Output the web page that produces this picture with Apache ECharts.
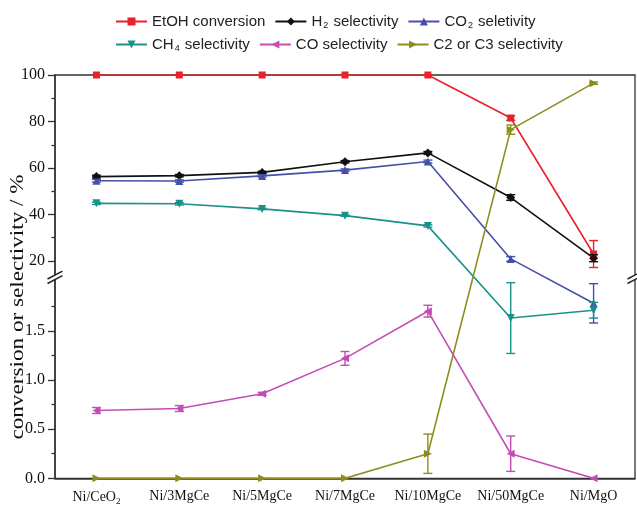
<!DOCTYPE html>
<html>
<head>
<meta charset="utf-8">
<script src="https://cdn.jsdelivr.net/npm/echarts@6/dist/echarts.min.js"></script>
<style>
html,body{margin:0;padding:0;background:#fff;}
#chart{width:637px;height:507px;}
</style>
</head>
<body>
<div id="chart"></div>
<script>
// ---------------- data ----------------
const categories = ['Ni/CeO2', 'Ni/3MgCe', 'Ni/5MgCe', 'Ni/7MgCe', 'Ni/10MgCe', 'Ni/50MgCe', 'Ni/MgO'];

const etohConversion = [100, 100, 100, 100, 100, 81.5, 23.0];
const etohErr        = [0, 0, 0, 0, 0, 1.0, 5.8];

const h2Selectivity  = [56.3, 56.7, 58.1, 62.7, 66.5, 47.3, 21.2];
const h2Err          = [0.6, 0.5, 0.5, 0.5, 0.6, 1.2, 1.5];

const co2Selectivity = [54.5, 54.4, 56.6, 59.1, 62.8, 20.9, 1.78];
const co2Err         = [0.6, 0.5, 0.5, 0.5, 0.6, 1.0, 0.2];

const ch4Selectivity = [44.8, 44.6, 42.4, 39.5, 35.1, 1.63, 1.71];
const ch4Err         = [0.5, 0.5, 0.3, 0.3, 0.5, 0.36, 0.08];

const coSelectivity  = [0.69, 0.71, 0.86, 1.22, 1.70, 0.25, 0.0];
const coErr          = [0.03, 0.03, 0.015, 0.07, 0.06, 0.18, 0];

const c2c3Selectivity = [0, 0, 0, 0, 0.25, 76.5, 96.5];
const c2c3Err         = [0, 0, 0, 0, 0.2, 2.0, 0.5];

const yTicksLower = [0, 0.5, 1.0, 1.5];
const yTickLabelsLower = ['0.0', '0.5', '1.0', '1.5'];
const yTicksUpper = [20, 40, 60, 80, 100];
const yTickLabelsUpper = ['20', '40', '60', '80', '100'];
const yMinorLower = [0.25, 0.75, 1.25, 1.75];
const yMinorUpper = [30, 50, 70, 90];

// ---------------- broken y scale ----------------
// lower segment 0..2, upper segment ~15..100, mapped onto one linear virtual axis
const LOWER_MAX = 2;
const LOWER_SCALE = 98.3;
const UPPER_REF = 20;
const UPPER_REF_POS = 217.3;
const UPPER_SCALE = 2.325;
const BREAK_LOW = 2, BREAK_HIGH = 15;
function fy(v) {
  return v <= LOWER_MAX ? v * LOWER_SCALE : UPPER_REF_POS + (v - UPPER_REF) * UPPER_SCALE;
}
const Y_MAX = fy(100);

const majorVals = yTicksLower.map(fy).concat(yTicksUpper.map(fy));
const majorLabels = yTickLabelsLower.concat(yTickLabelsUpper);
const minorVals = yMinorLower.map(fy).concat(yMinorUpper.map(fy));

const seriesDefs = [
  {name: 'EtOH conversion', values: etohConversion, err: etohErr, color: '#e8212a', symbol: 'rect', size: 7, rot: 0},
  {name: 'H2 selectivity', values: h2Selectivity, err: h2Err, color: '#111111', symbol: 'diamond', size: 9, rot: 0},
  {name: 'CO2 seletivity', values: co2Selectivity, err: co2Err, color: '#4650a8', symbol: 'triangle', size: 8, rot: 0},
  {name: 'CH4 selectivity', values: ch4Selectivity, err: ch4Err, color: '#1a918b', symbol: 'triangle', size: 8, rot: 180},
  {name: 'CO selectivity', values: coSelectivity, err: coErr, color: '#c44db4', symbol: 'triangle', size: 8, rot: 90},
  {name: 'C2 or C3 selectivity', values: c2c3Selectivity, err: c2c3Err, color: '#8d8d1f', symbol: 'triangle', size: 8, rot: -90}
];

const legendRich = {
  n: {fontFamily: 'Liberation Sans', fontSize: 15, color: '#222'},
  s: {fontFamily: 'Liberation Sans', fontSize: 9, color: '#222', verticalAlign: 'bottom', padding: [9, 1, 0, 1]}
};
function legendFmt(name) {
  const m = name.match(/^(H|CO|CH)(\d)( .*)$/);
  if (m) return '{n|' + m[1] + '}{s|' + m[2] + '}{n|' + m[3] + '}';
  return '{n|' + name + '}';
}

const GRID_LEFT = 55, GRID_RIGHT = 2, GRID_TOP = 75, GRID_BOTTOM = 28.7;

const series = [];
seriesDefs.forEach(function (d) {
  series.push({
    name: d.name,
    type: 'line',
    data: d.values.map(fy),
    symbol: d.symbol,
    symbolSize: d.size,
    symbolRotate: d.rot,
    itemStyle: {color: d.color},
    lineStyle: {color: d.color, width: 1.6},
    z: 3
  });
  series.push({
    name: d.name + ' err',
    type: 'custom',
    data: d.values.map(function (v, i) { return [i, v, d.err[i]]; }),
    z: 4,
    silent: true,
    renderItem: function (params, api) {
      const i = api.value(0), v = api.value(1), e = api.value(2);
      if (!e) return null;
      const top = api.coord([i, fy(v + e)]);
      const bot = api.coord([i, fy(Math.max(0, v - e))]);
      const hw = 4.5;
      const st = {stroke: d.color, lineWidth: 1.4};
      return {
        type: 'group',
        children: [
          {type: 'line', shape: {x1: top[0], y1: top[1], x2: bot[0], y2: bot[1]}, style: st},
          {type: 'line', shape: {x1: top[0] - hw, y1: top[1], x2: top[0] + hw, y2: top[1]}, style: st},
          {type: 'line', shape: {x1: bot[0] - hw, y1: bot[1], x2: bot[0] + hw, y2: bot[1]}, style: st}
        ]
      };
    }
  });
});

const chart = echarts.init(document.getElementById('chart'), null, {renderer: 'canvas'});
const option = {
  animation: false,
  backgroundColor: '#fff',
  legend: [
    {
      data: seriesDefs.slice(0, 3).map(function (d) { return d.name; }),
      left: 110, top: 9, itemWidth: 31, itemHeight: 10, itemGap: 9,
      formatter: legendFmt, textStyle: {rich: legendRich}
    },
    {
      data: seriesDefs.slice(3).map(function (d) { return d.name; }),
      left: 110, top: 32, itemWidth: 31, itemHeight: 10, itemGap: 9,
      formatter: legendFmt, textStyle: {rich: legendRich}
    }
  ],
  grid: {
    left: GRID_LEFT, right: GRID_RIGHT, top: GRID_TOP, bottom: GRID_BOTTOM,
    show: true, borderColor: '#333', borderWidth: 1.3, backgroundColor: 'transparent'
  },
  xAxis: [
    {
      type: 'category', data: categories, position: 'bottom',
      axisLine: {lineStyle: {color: '#333', width: 1.5}},
      axisTick: {alignWithLabel: true, length: 6, lineStyle: {color: '#333', width: 1.3}},
      axisLabel: {
        interval: 0, margin: 11, color: '#111', fontFamily: 'Liberation Serif', fontSize: 14,
        formatter: function (v) { return v.replace(/O2$/, 'O{s|2}'); },
        rich: {s: {fontFamily: 'Liberation Serif', fontSize: 9, color: '#111', verticalAlign: 'bottom', padding: [8, 0, 0, 0]}}
      }
    },
    {
      type: 'category', data: categories, position: 'bottom',
      axisLine: {show: false},
      axisTick: {alignWithLabel: false, interval: 0, length: 4, lineStyle: {color: '#333', width: 1.3}},
      axisLabel: {show: false}
    }
  ],
  yAxis: [
    {
      type: 'value', min: 0, max: Y_MAX, position: 'left',
      splitLine: {show: false},
      axisLine: {show: true, lineStyle: {color: '#333', width: 1.5}},
      axisTick: {show: true, length: 7, customValues: majorVals, lineStyle: {color: '#333', width: 1.3}},
      axisLabel: {
        customValues: majorVals, margin: 10, color: '#111', fontFamily: 'Liberation Serif', fontSize: 16,
        formatter: function (val) {
          let best = 0, bd = Infinity;
          majorVals.forEach(function (m, k) { const dd = Math.abs(m - val); if (dd < bd) { bd = dd; best = k; } });
          return majorLabels[best];
        }
      }
    },
    {
      type: 'value', min: 0, max: Y_MAX, position: 'left',
      splitLine: {show: false},
      axisLine: {show: false},
      axisTick: {show: true, length: 3.5, customValues: minorVals, lineStyle: {color: '#333', width: 1.3}},
      axisLabel: {show: false}
    }
  ],
  series: series
};
chart.setOption(option);

// axis-break marks and y-axis title
const breakPix = chart.convertToPixel({yAxisIndex: 0}, (fy(BREAK_LOW) + fy(BREAK_HIGH)) / 2);
const xLeft = GRID_LEFT, xRight = 637 - GRID_RIGHT;
const gfx = [];
[xLeft, xRight].forEach(function (x0) {
  gfx.push({type: 'rect', shape: {x: x0 - 2.5, y: breakPix - 2.2, width: 5, height: 4.6}, style: {fill: '#fff'}, z: 100});
  gfx.push({type: 'line', shape: {x1: x0 - 7.5, y1: breakPix + 1.8, x2: x0 + 7.5, y2: breakPix - 6}, style: {stroke: '#222', lineWidth: 1.5}, z: 101});
  gfx.push({type: 'line', shape: {x1: x0 - 7.5, y1: breakPix + 6.3, x2: x0 + 7.5, y2: breakPix - 1.5}, style: {stroke: '#222', lineWidth: 1.5}, z: 101});
});
gfx.push({
  type: 'text', x: 18, y: 307, rotation: Math.PI / 2, scaleX: 1.22,
  style: {text: 'conversion or selectivity / %', fontFamily: 'Liberation Serif', fontSize: 19, fill: '#111', align: 'center', verticalAlign: 'middle'}
});
chart.setOption({graphic: gfx});
</script>
</body>
</html>
